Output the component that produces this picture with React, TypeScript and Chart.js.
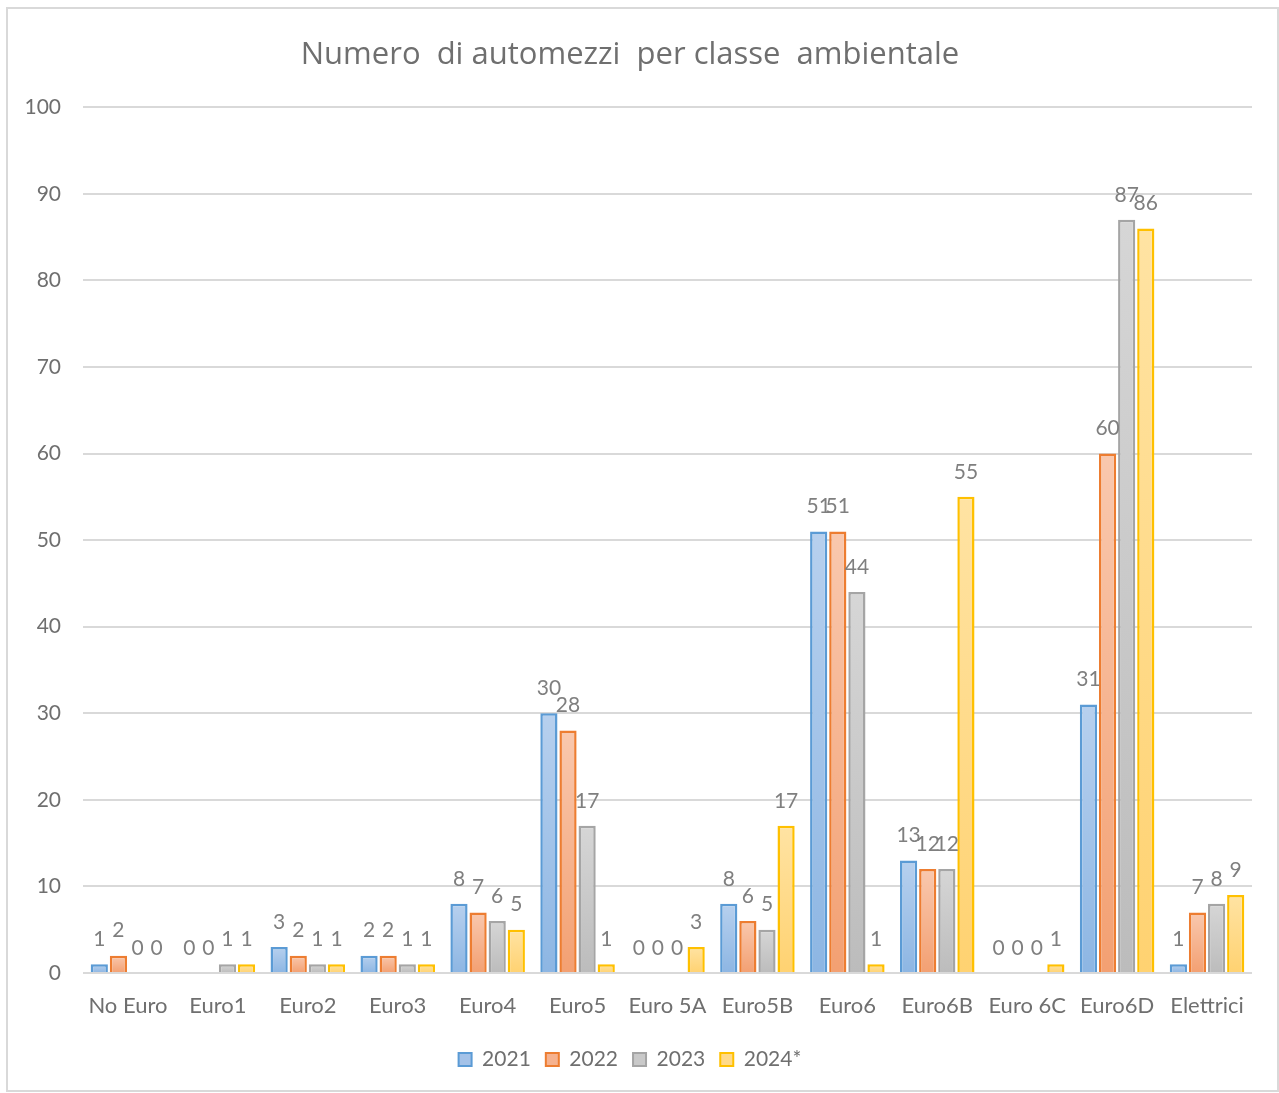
import React, { useEffect, useRef } from "react";
import { Chart, registerables } from "chart.js";

Chart.register(...registerables);

const categories = ["No Euro", "Euro1", "Euro2", "Euro3", "Euro4", "Euro5", "Euro 5A", "Euro5B", "Euro6", "Euro6B", "Euro 6C", "Euro6D", "Elettrici"];
const seriesNames = ["2021", "2022", "2023", "2024*"];
const v2021 = [1, 0, 3, 2, 8, 30, 0, 8, 51, 13, 0, 31, 1];
const v2022 = [2, 0, 2, 2, 7, 28, 0, 6, 51, 12, 0, 60, 7];
const v2023 = [0, 1, 1, 1, 6, 17, 0, 5, 44, 12, 0, 87, 8];
const v2024 = [0, 1, 1, 1, 5, 1, 3, 17, 1, 55, 1, 86, 9];

const borderColors = ["#5b9bd5", "#ed7d31", "#a5a5a5", "#ffc000"];
const gradTop = ["#b7d0ee", "#f9c8ae", "#d6d6d6", "#ffe3a3"];
const gradBottom = ["#8db6e3", "#f3a072", "#bcbcbc", "#ffd271"];
const legendFill = ["#a4c2e8", "#f6b28f", "#c9c9c9", "#ffda8a"];

const FONT = "Lato, 'Noto Sans', sans-serif";
const TITLE_FONT = "'Open Sans', Lato, sans-serif";

const dataLabels = {
  id: "dataLabels",
  afterDatasetsDraw(chart: any) {
    const ctx = chart.ctx;
    ctx.save();
    ctx.font = `21px ${FONT}`;
    ctx.fillStyle = "#7f7f7f";
    ctx.textAlign = "center";
    ctx.textBaseline = "middle";
    chart.data.datasets.forEach((ds: any, di: number) => {
      const meta = chart.getDatasetMeta(di);
      meta.data.forEach((el: any, i: number) => {
        ctx.fillText(String(ds.data[i]), el.x, el.y - 25);
      });
    });
    ctx.restore();
  },
};

export default function App() {
  const ref = useRef<HTMLCanvasElement>(null);
  useEffect(() => {
    const all = [v2021, v2022, v2023, v2024];
    const chart = new Chart(ref.current!, {
      type: "bar",
      data: {
        labels: categories,
        datasets: all.map((vals, k) => ({
          label: seriesNames[k],
          data: vals,
          borderColor: borderColors[k],
          borderWidth: 2.5,
          borderSkipped: "bottom",
          backgroundColor: (c: any) => {
            const chartObj = c.chart;
            const y = chartObj.scales?.y;
            if (!y || !chartObj.chartArea || c.parsed == null) return legendFill[k];
            const top = y.getPixelForValue(c.parsed.y);
            const base = y.getPixelForValue(0);
            if (!(base - top > 1)) return legendFill[k];
            const g = chartObj.ctx.createLinearGradient(0, top, 0, base);
            g.addColorStop(0, gradTop[k]);
            g.addColorStop(1, gradBottom[k]);
            return g;
          },
          categoryPercentage: 0.85,
          barPercentage: 0.9,
        })),
      },
      options: {
        animation: false,
        responsive: true,
        maintainAspectRatio: false,
        layout: { padding: { left: 0, right: 25, top: 0, bottom: 10 } },
        plugins: {
          title: {
            display: true,
            text: "Numero  di automezzi  per classe  ambientale",
            color: "#6f6f6f",
            font: { family: TITLE_FONT, size: 31, weight: "normal" },
            padding: { top: 28, bottom: 33 },
          },
          legend: {
            position: "bottom",
            labels: {
              color: "#595959",
              font: { family: FONT, size: 21 },
              boxWidth: 13,
              boxHeight: 13,
              padding: 15,
              generateLabels: () =>
                seriesNames.map((n, k) => ({
                  text: n,
                  fillStyle: legendFill[k],
                  strokeStyle: borderColors[k],
                  lineWidth: 2,
                  datasetIndex: k,
                  fontColor: "#6f6f6f",
                })),
            },
          },
          tooltip: { enabled: false },
        },
        scales: {
          x: {
            grid: { display: false },
            border: { display: false },
            ticks: { color: "#6f6f6f", font: { family: FONT, size: 22 }, padding: 12, maxRotation: 0, autoSkip: false },
            afterFit: (s: any) => { s.height = 61; },
          },
          y: {
            min: 0,
            max: 100,
            grid: { color: "#d9d9d9", lineWidth: 2, drawTicks: false },
            border: { display: false },
            ticks: { stepSize: 10, color: "#6f6f6f", font: { family: FONT, size: 21 }, padding: 22 },
            afterFit: (s: any) => { s.width = 75; },
          },
        },
      },
      plugins: [dataLabels],
    });
    return () => chart.destroy();
  }, []);
  return (
    <div
      style={{
        position: "absolute",
        left: 6,
        top: 7,
        width: 1273,
        height: 1085,
        border: "2px solid #d9d9d9",
        boxSizing: "border-box",
        background: "#fff",
      }}
    >
      <div style={{ position: "relative", width: "100%", height: "100%" }}>
        <canvas ref={ref} />
      </div>
    </div>
  );
}
